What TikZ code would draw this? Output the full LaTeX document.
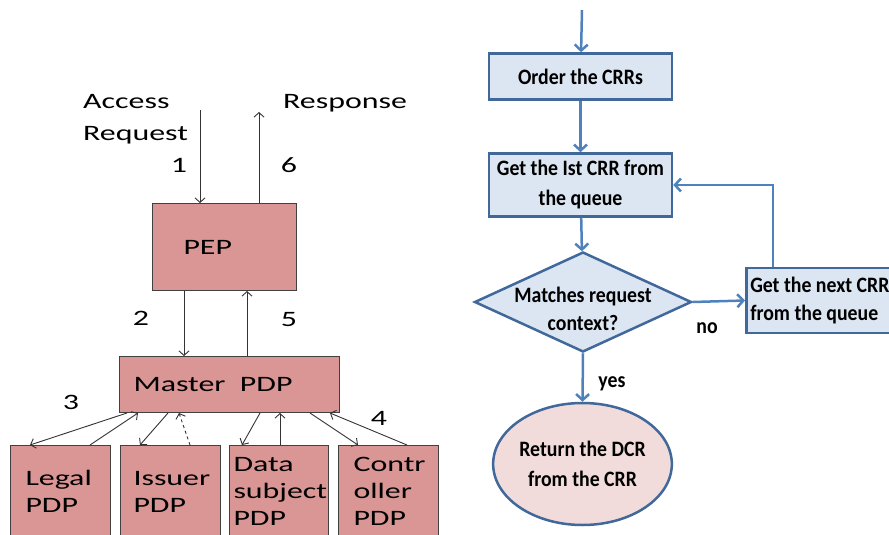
\documentclass[tikz,border=0pt]{standalone}
\usepackage{fontspec}
\newfontfamily\pdpfont[FakeStretch=1.45]{Carlito}
\newfontfamily\crrfont[FakeStretch=0.9]{Carlito}
\usetikzlibrary{calc,arrows,arrows.meta,shapes.geometric}
\definecolor{pdppink}{HTML}{D99694}
\definecolor{pdpedge}{HTML}{404040}
\definecolor{crrblue}{HTML}{4F81BD}
\definecolor{crredge}{HTML}{41689A}
\definecolor{crrfill}{HTML}{DCE6F2}
\definecolor{crrpink}{HTML}{F2DCDB}

\begin{document}
\begin{tikzpicture}[x=1pt,y=-1pt,
  pdp/.style={draw=pdpedge,fill=pdppink,line width=1pt,align=flush left,anchor=north west,
    font=\pdpfont\fontsize{22}{27}\selectfont},
  txt/.style={font=\pdpfont\fontsize{22}{32}\selectfont,inner sep=0pt},
  flow/.style={-{Straight Barb[length=4.5pt,width=10pt]},draw=black!80,line width=0.9pt},
  crr/.style={draw=crredge,fill=crrfill,line width=2.5pt,align=center,
    font=\crrfont\bfseries\fontsize{22}{30}\selectfont},
  crrarrow/.style={-{Straight Barb[length=6pt,width=13pt]},draw=crrblue,line width=2.5pt},
  lbl/.style={font=\crrfont\bfseries\fontsize{22}{28}\selectfont,inner sep=0pt}]
\useasboundingbox (0,0) rectangle (889,535);
\clip (0,0) rectangle (889,535);

% PEP / PDP hierarchy
\node[pdp,text width=82pt,inner xsep=31pt,minimum height=87pt] (pep) at (152,203) {PEP};
\node[pdp,text width=192pt,inner xsep=14pt,minimum height=56pt] (master) at (119,356) {Master\ \ PDP};
\node[pdp,text width=70pt,inner xsep=15pt,minimum height=92pt] (legal) at (10,445) {Legal\\PDP};
\node[pdp,text width=74pt,inner xsep=13pt,minimum height=92pt] (issuer) at (120,445) {Issuer\\PDP};
\node[pdp,text width=91pt,inner xsep=4pt,minimum height=92pt] (subject) at (229,445) {Data\\subject\\PDP};
\node[pdp,text width=70pt,inner xsep=15pt,minimum height=92pt] (ctrl) at (338,445) {Contr\\oller\\PDP};

\node[txt,anchor=base west,align=left] (areq) at (83,140) {Access\\Request};
\node[txt,anchor=base west] (resp) at (283,108) {Response};
\coordinate (reqtop) at (200,110);
\coordinate (resptop) at (259,112);

\draw[flow] (reqtop) -- ([xshift=48pt]pep.north west);
\draw[flow] ([xshift=107pt]pep.north west) -- (resptop);
\draw[flow] ([xshift=32pt]pep.south west) -- ([xshift=65pt]master.north west);
\draw[flow] ([xshift=128pt]master.north west) -- ([xshift=95pt]pep.south west);
\draw[flow] ([xshift=8pt]master.south west) -- ([xshift=20pt]legal.north west);
\draw[flow] ([xshift=80pt]legal.north west) -- ([xshift=19pt]master.south west);
\draw[flow] ([xshift=49pt]master.south west) -- ([xshift=20pt]issuer.north west);
\draw[flow,dashed] ([xshift=70pt]issuer.north west) -- ([xshift=60pt]master.south west);
\draw[flow] ([xshift=141pt]master.south west) -- ([xshift=13pt]subject.north west);
\draw[flow] ([xshift=51pt]subject.north west) -- ([xshift=161pt]master.south west);
\draw[flow] ([xshift=191pt]master.south west) -- ([xshift=20pt]ctrl.north west);
\draw[flow] ([xshift=69pt]ctrl.north west) -- ([xshift=211pt]master.south west);

\node[txt] (n1) at (179,165) {1};
\node[txt] (n6) at (289,165) {6};
\node[txt] (n2) at (141,318) {2};
\node[txt] (n5) at (289,320) {5};
\node[txt] (n3) at (71,402) {3};
\node[txt] (n4) at (379,418) {4};

% CRR flow chart
\node[crr,minimum width=183pt,minimum height=46pt] (order) at (580.5,76.5) {Order the CRRs};
\node[crr,minimum width=183pt,minimum height=63pt,inner sep=1pt] (first) at (580.5,185) {Get the Ist CRR from\\the queue};
\node[crr,diamond,aspect=2.17,inner sep=0pt,minimum width=217pt,minimum height=100pt,
  label={[lbl,align=center,yshift=-7pt]center:Matches request\\context?}] (match) at (583,302) {};
\node[crr,anchor=west,align=flush left,text width=162pt,inner xsep=4pt,minimum height=65pt,
  font=\crrfont\bfseries\fontsize{22}{28}\selectfont] (next) at (745,300.5) {Get the next CRR\\from the queue};
\node[crr,ellipse,fill=crrpink,inner sep=0pt,minimum width=165pt,minimum height=122pt] (ret) at (582.5,464) {Return the DCR\\from the CRR};
\coordinate (start) at (582,10);

\draw[crrarrow] (start) -- (order);
\draw[crrarrow] (order) -- (first);
\draw[crrarrow] (first) -- (match);
\draw[crrarrow] (match.east) -- (next.west);
\draw[crrarrow] ([xshift=28pt]next.north west) |- (first.east);
\draw[crrarrow] (match.south) -- (ret.north);

\node[lbl] (no) at (707,328) {no};
\node[lbl] (yes) at (612,384) {yes};
\end{tikzpicture}
\end{document}
